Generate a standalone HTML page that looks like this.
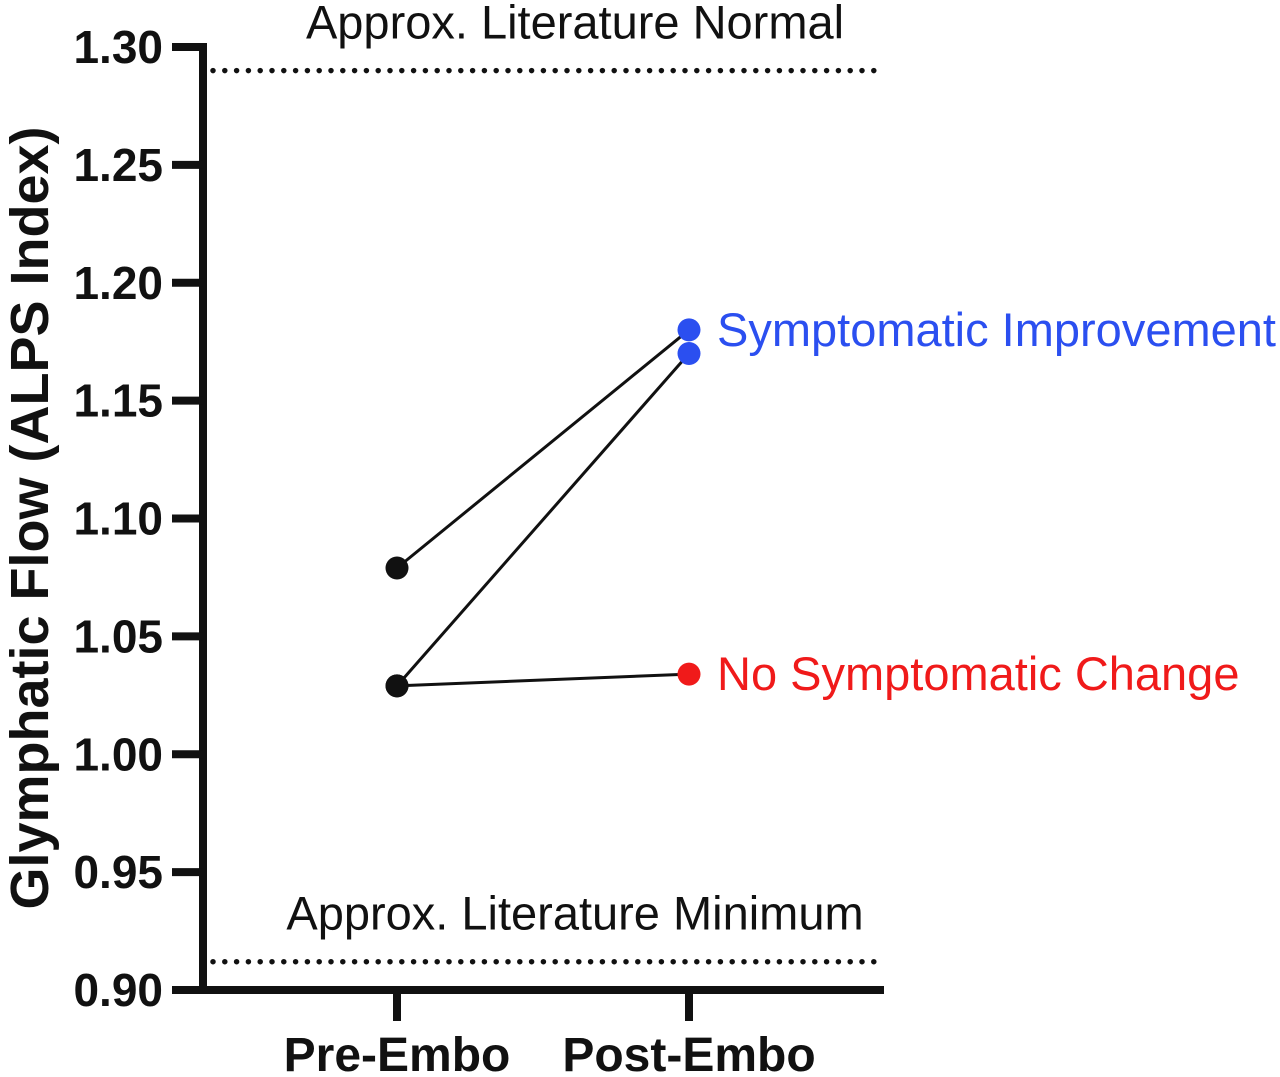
<!DOCTYPE html>
<html><head><meta charset="utf-8"><style>
html,body{margin:0;padding:0;background:#fff;}
svg{display:block;font-family:"Liberation Sans",Arial,sans-serif;}
</style></head><body>
<svg id="chart" width="1280" height="1077" viewBox="0 0 1280 1077">
<g id="axes"></g><g id="marks"></g>
</svg>
<script>
const yTicks=[0.90,0.95,1.00,1.05,1.10,1.15,1.20,1.25,1.30];
const yTickLabels=["0.90","0.95","1.00","1.05","1.10","1.15","1.20","1.25","1.30"];
const categories=["Pre-Embo","Post-Embo"];
const preValues=[1.079,1.029,1.029];
const postValues=[1.180,1.170,1.034];
const postColors=["#2b4ff0","#2b4ff0","#f01a1a"];
const refValues=[1.29,0.912];
const refLabels=["Approx. Literature Normal","Approx. Literature Minimum"];
const groupLabels=["Symptomatic Improvement","No Symptomatic Change"];
const groupLabelValues=[1.18,1.034];
const groupLabelColors=["#2b4ff0","#f01a1a"];

const NS="http://www.w3.org/2000/svg";
const y=v=>47+(1.30-v)/0.40*943;
const x=i=>397+i*292;
const axes=document.getElementById('axes');
const marks=document.getElementById('marks');
function mk(tag,attrs,parent,text){const e=document.createElementNS(NS,tag);for(const k in attrs)e.setAttribute(k,attrs[k]);if(text!==undefined)e.textContent=text;parent.appendChild(e);return e;}

let e=mk('line',{x1:203,y1:43,x2:203,y2:994,stroke:'#111','stroke-width':8},axes);


e=mk('line',{x1:199,y1:990,x2:884,y2:990,stroke:'#111','stroke-width':8},axes);


yTicks.forEach((v,i)=>{
  let t=mk('line',{x1:172,y1:y(v),x2:203,y2:y(v),stroke:'#111','stroke-width':8},axes);
  
  
  let l=mk('text',{x:163,y:y(v)+16,'text-anchor':'end','font-size':46,'font-weight':'bold',fill:'#111'},axes,yTickLabels[i]);
  
  
});
categories.forEach((c,i)=>{
  let t=mk('line',{x1:x(i),y1:990,x2:x(i),y2:1021,stroke:'#111','stroke-width':8},axes);
  
  
  let l=mk('text',{x:x(i),y:1071,'text-anchor':'middle','font-size':48,'font-weight':'bold',fill:'#111'},axes,c);
  
  
});
let yt=mk('text',{x:0,y:0,transform:'translate(48,518) rotate(-90)','text-anchor':'middle','font-size':54,'font-weight':'bold',fill:'#111'},axes,'Glymphatic Flow (ALPS Index)');



refValues.forEach((v,i)=>{
  let d=mk('line',{x1:213,y1:y(v),x2:884,y2:y(v),stroke:'#111','stroke-width':5.5,'stroke-dasharray':'0 11.8','stroke-linecap':'round'},axes);
  
  
  let l=mk('text',{x:575,y:y(v)-32,'text-anchor':'middle','font-size':47,fill:'#111'},axes,refLabels[i]);
  
  
});

preValues.forEach((p,i)=>{
  let l=mk('line',{x1:x(0),y1:y(p),x2:x(1),y2:y(postValues[i]),stroke:'#111','stroke-width':3},marks);
  
  
});
preValues.forEach((p,i)=>{
  let c=mk('circle',{cx:x(0),cy:y(p),r:11.5,fill:'#111'},marks);
  
  
});
postValues.forEach((p,i)=>{
  let c=mk('circle',{cx:x(1),cy:y(p),r:11.5,fill:postColors[i]},marks);
  
  
});
groupLabels.forEach((g,i)=>{
  let l=mk('text',{x:717,y:y(groupLabelValues[i])+16,'font-size':47,fill:groupLabelColors[i]},marks,g);
  
  
});
</script>
</body></html>
